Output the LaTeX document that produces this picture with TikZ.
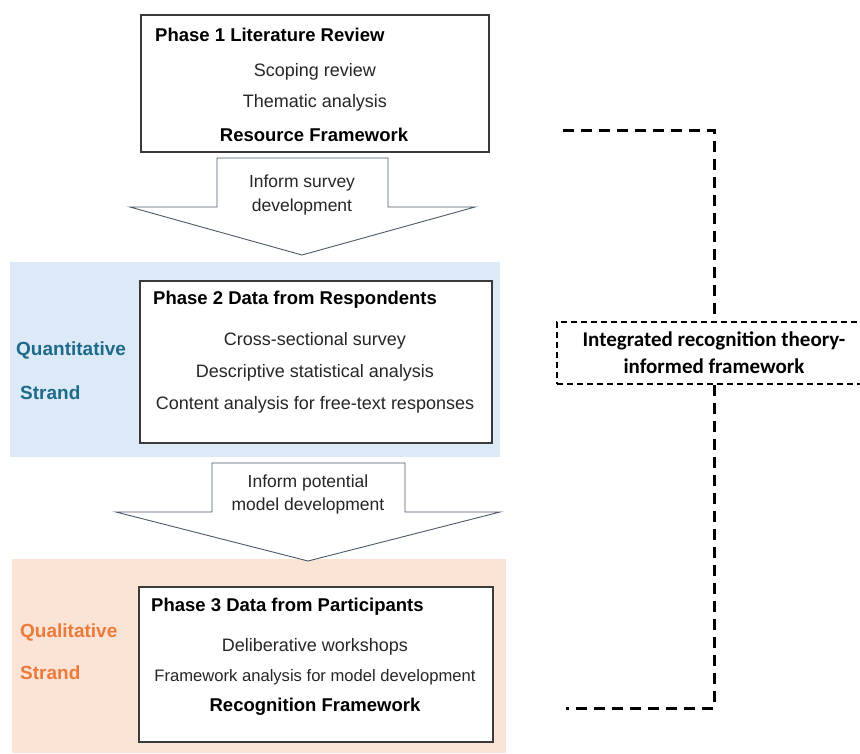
\documentclass[tikz,border=0pt]{standalone}
\usepackage{fontspec}
\setmainfont{Liberation Sans}
\newfontfamily\calibri{Carlito}
\usepackage{xcolor}
\usetikzlibrary{positioning}
\definecolor{bandblue}{HTML}{DCE9F6}
\definecolor{bandorange}{HTML}{FBE4D6}
\definecolor{quanttext}{HTML}{1D6A8A}
\definecolor{qualtext}{HTML}{EC7A3A}
\definecolor{boxgray}{HTML}{3A3A3A}
\definecolor{arrowgray}{HTML}{4A5A6A}
\definecolor{txtgray}{HTML}{262626}

\begin{document}
\begin{tikzpicture}[x=1pt,y=-1pt]
\tikzset{phase/.style={draw=boxgray,line width=1.2pt,fill=white,inner sep=0pt}}
\tikzset{title/.style={anchor=west,inner sep=0pt,font=\fontsize{18.5}{22}\selectfont\bfseries,text=black}}
\tikzset{item/.style={inner sep=0pt,font=\fontsize{18}{22}\selectfont,text=txtgray}}
\tikzset{blockarrow/.style={draw=arrowgray,line width=0.9pt,fill=white,line join=miter}}
\tikzset{strand/.style={anchor=west,inner sep=0pt,font=\fontsize{19}{22}\selectfont\bfseries}}
\tikzset{bracket/.style={line width=3pt,dash pattern=on 11pt off 7pt}}
\useasboundingbox (0,0) rectangle (860,753);
\fill[bandblue] (10,262) rectangle (500,457);
\fill[bandorange] (12,559) rectangle (506,753);
\node[phase, minimum width=348, minimum height=137] (p1) at (315,83.5) {};
\node[phase, minimum width=352, minimum height=162] (p2) at (316,362) {};
\node[phase, minimum width=354, minimum height=155] (p3) at (316,664.5) {};
\node[title] (p1t) at (155,35) {Phase 1 Literature Review};
\node[item] (p1a) at (315,72) {Scoping review};
\node[item] (p1b) at (315,103) {Thematic analysis};
\node[item, font=\fontsize{18.5}{22}\selectfont\bfseries, text=black] (p1c) at (314,135) {Resource Framework};
\node[title] (p2t) at (153,300) {Phase 2 Data from Respondents};
\node[item] (p2a) at (315,341) {Cross-sectional survey};
\node[item] (p2b) at (315,373) {Descriptive statistical analysis};
\node[item] (p2c) at (315,405) {Content analysis for free-text responses};
\node[title] (p3t) at (151,607) {Phase 3 Data from Participants};
\node[item] (p3a) at (315,647) {Deliberative workshops};
\node[item, font=\fontsize{16.6}{20}\selectfont] (p3b) at (315,677) {Framework analysis for model development};
\node[item, font=\fontsize{18.5}{22}\selectfont\bfseries, text=black] (p3c) at (315,707) {Recognition Framework};
\node[strand, text=quanttext] (q1) at (16,350) {Quantitative};
\node[strand, text=quanttext] (q2) at (20,393) {Strand};
\node[strand, text=qualtext] (r1) at (20,632) {Qualitative};
\node[strand, text=qualtext] (r2) at (20,673) {Strand};
\draw[blockarrow] (217,158) -- (388,158) -- (388,207) -- (475,207) -- (302,255) -- (130,207) -- (217,207) -- cycle;
\draw[blockarrow] (212,463) -- (405,463) -- (405,512) -- (500,512) -- (308,561) -- (116,512) -- (212,512) -- cycle;
\node[item, align=center, font=\fontsize{17.5}{23.5}\selectfont] (a1) at (302,195) {Inform survey\\development};
\node[item, align=center, font=\fontsize{17.5}{23.5}\selectfont] (a2) at (308,494.5) {Inform potential\\model development};
\node[draw, line width=1.5pt, dash pattern=on 6pt off 4pt, minimum width=314, minimum height=62, align=center,
  font=\calibri\fontsize{21}{27}\selectfont\bfseries] (fw) at (714,353) {Integrated recognition theory-\\informed framework};
\coordinate (top) at (563,130);
\coordinate (bot) at (566,708);
\draw[bracket] (top) -| (fw.north);
\draw[bracket] (fw.south) |- (bot);
\end{tikzpicture}
\end{document}
